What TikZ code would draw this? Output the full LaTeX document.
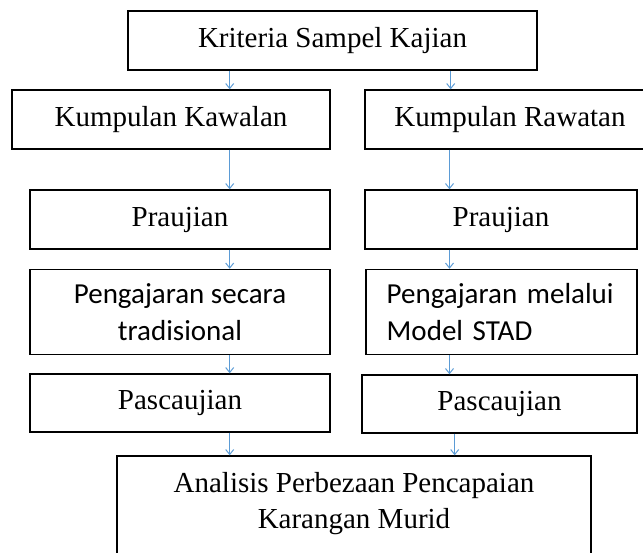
\documentclass[tikz,border=0pt]{standalone}
\usepackage{fontspec}
\setmainfont{Liberation Serif}
\newfontfamily\calibri{Carlito}
\usetikzlibrary{arrows.meta}
\definecolor{arrowblue}{HTML}{5B9BD5}

\begin{document}
\begin{tikzpicture}[x=1pt, y=-1pt,
    stage/.style ={rectangle, draw, line width=1.4pt, inner sep=0pt, align=center,
                   font=\fontsize{29}{36}\selectfont},
    stagesans/.style ={stage, font=\calibri\fontsize{29}{36.5}\selectfont},
    flow/.style ={draw=arrowblue, line width=1pt, -{Straight Barb[length=5pt,width=8pt]}}]
   \useasboundingbox (0,0) rectangle (643,553);
   \coordinate (kiri)  at (229.7,0);
   \coordinate (kanan) at (449.5,0);

   \node[stage, minimum width=409pt, minimum height=59pt] (kriteria) at (332.5,40.5) {Kriteria Sampel Kajian};

   \node[stage, minimum width=318pt, minimum height=59pt] (kawalan) at (171,119.5) {Kumpulan Kawalan};
   \node[stage, minimum width=290pt, minimum height=59pt] (rawatan) at (510,119.5) {Kumpulan Rawatan};

   \node[stage, minimum width=300pt, minimum height=59pt] (prauA) at (180,219.5) {Praujian};
   \node[stage, minimum width=272pt, minimum height=59pt] (prauB) at (501,219.5) {Praujian};

   \node[stagesans, minimum width=300pt, minimum height=85pt] (ajarA) at (180,312) {Pengajaran secara\\tradisional};
   \node[stagesans, minimum width=271pt, minimum height=85pt, align=left,
         text width=229.6pt, inner xsep=20.7pt] (ajarB) at (501.5,312) {Pengajaran melalui\\Model STAD};

   \node[stage, minimum width=300pt, minimum height=58pt] (pascaA) at (180,403) {Pascaujian};
   \node[stage, minimum width=275pt, minimum height=58pt] (pascaB) at (499.5,404) {Pascaujian};

   \node[stage, minimum width=474pt, minimum height=108pt] (analisis) at (354,510) {};
   \node[align=center, inner sep=0pt, font=\fontsize{29}{36}\selectfont] (analisisteks) at (354,504) {Analisis Perbezaan Pencapaian\\Karangan Murid};

   % anak panah
   \draw[flow] (kriteria.south -| kiri) -- (kawalan.north -| kiri);
   \draw[flow] ([xshift=1.2pt]kriteria.south -| kanan) -- ([xshift=1.2pt]rawatan.north -| kanan);

   \draw[flow] (kawalan.south -| kiri) -- (prauA.north -| kiri);
   \draw[flow] (rawatan.south -| kanan) -- (prauB.north -| kanan);

   \draw[flow] (prauA.south -| kiri) -- (ajarA.north -| kiri);
   \draw[flow] (prauB.south -| kanan) -- (ajarB.north -| kanan);

   \draw[flow] (ajarA.south -| kiri) -- (pascaA.north -| kiri);
   \draw[flow] (ajarB.south -| kanan) -- (pascaB.north -| kanan);

   \draw[flow] (pascaA.south -| kiri) -- (analisis.north -| kiri);
   \draw[flow] ([xshift=5.2pt]pascaB.south -| kanan) -- ([xshift=5.2pt]analisis.north -| kanan);
\end{tikzpicture}
\end{document}
